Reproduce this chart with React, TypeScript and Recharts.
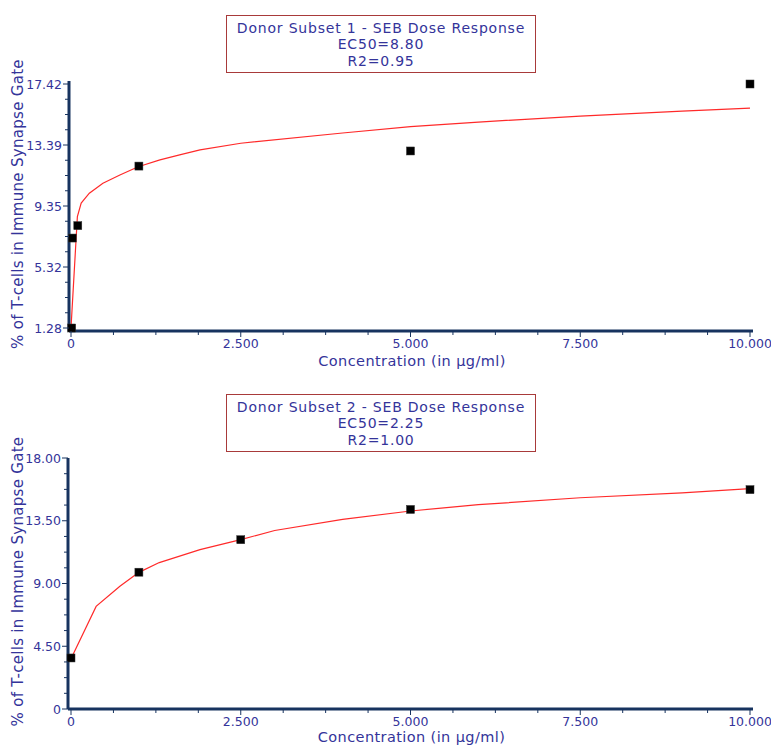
import React from 'react';
import { ComposedChart, Line, Scatter, XAxis, YAxis } from 'recharts';

// ---- shared axis ticks ----
const xMajorTicks = [0, 2.5, 5, 7.5, 10];
const xMajorLabels = ['0', '2.500', '5.000', '7.500', '10.000'];

// ---- Donor Subset 1 ----
const donor1Title = ['Donor Subset 1 - SEB Dose Response', 'EC50=8.80', 'R2=0.95'];
const donor1Conc = [0.01, 0.02, 0.1, 1, 5, 10];
const donor1Pct = [1.28, 7.23, 8.05, 11.99, 12.99, 17.42];
const donor1CurveX = [0, 0.094, 0.15, 0.27, 0.47, 0.72, 0.99, 1.31, 1.6, 1.9, 2.5, 4, 5, 6, 7.5, 9, 10];
const donor1CurveY = [1.28, 8.65, 9.54, 10.2, 10.86, 11.4, 11.95, 12.4, 12.73, 13.06, 13.5, 14.18, 14.6, 14.9, 15.3, 15.63, 15.83];
const donor1YTicks = [1.28, 5.315, 9.35, 13.385, 17.42];
const donor1YLabels = ['1.28', '5.32', '9.35', '13.39', '17.42'];

// ---- Donor Subset 2 ----
const donor2Title = ['Donor Subset 2 - SEB Dose Response', 'EC50=2.25', 'R2=1.00'];
const donor2Conc = [0, 1, 2.5, 5, 10];
const donor2Pct = [3.66, 9.81, 12.14, 14.31, 15.73];
const donor2CurveX = [0, 0.37, 0.72, 1, 1.3, 1.9, 2.5, 3, 4, 5, 6, 7.5, 9, 10];
const donor2CurveY = [3.6, 7.36, 8.8, 9.8, 10.5, 11.43, 12.15, 12.8, 13.6, 14.2, 14.65, 15.15, 15.5, 15.8];
const donor2YTicks = [0, 4.5, 9, 13.5, 18];
const donor2YLabels = ['0', '4.50', '9.00', '13.50', '18.00'];

const xAxisTitle = 'Concentration (in µg/ml)';
const yAxisTitle = '% of T-cells in Immune Synapse Gate';

const AXIS = '#17335f';
const TXT = '#34349a';
const FONT = '"DejaVu Sans", Verdana, sans-serif';

function subdivide(majors: number[], parts: number): number[] {
  const out: number[] = [];
  for (let i = 0; i < majors.length - 1; i++) {
    for (let k = 0; k < parts; k++) out.push(majors[i] + ((majors[i + 1] - majors[i]) * k) / parts);
  }
  out.push(majors[majors.length - 1]);
  return out;
}

function labelFor(v: number, majors: number[], labels: string[]): string | null {
  for (let i = 0; i < majors.length; i++) if (Math.abs(majors[i] - v) < 1e-6) return labels[i];
  return null;
}

const makeXTick = (majors: number[], labels: string[]) => (props: any) => {
  const { x, y, payload } = props;
  const lab = labelFor(payload.value, majors, labels);
  return (
    <g>
      <line x1={x} x2={x} y1={y} y2={y + (lab !== null ? 6 : 4)} stroke={AXIS} strokeWidth={1} />
      {lab !== null && (
        <text x={x} y={y + 16.5} textAnchor="middle" fill={TXT} fontSize={12.5} fontFamily={FONT}>
          {lab}
        </text>
      )}
    </g>
  );
};

const makeYTick = (majors: number[], labels: string[]) => (props: any) => {
  const { x, y, payload } = props;
  const lab = labelFor(payload.value, majors, labels);
  return (
    <g>
      <line x1={x} x2={x - (lab !== null ? 6 : 4)} y1={y} y2={y} stroke={AXIS} strokeWidth={1} />
      {lab !== null && (
        <text x={x - 7} y={y + 4.5} textAnchor="end" fill={TXT} fontSize={12.5} fontFamily={FONT}>
          {lab}
        </text>
      )}
    </g>
  );
};

const Square = (props: any) => {
  const { cx, cy } = props;
  if (cx == null || cy == null) return null;
  return <rect x={cx - 4} y={cy - 4} width={8} height={8} fill="#000" stroke="#333" strokeWidth={0.5} />;
};

type Cfg = {
  top: number;
  height: number;
  marginTop: number;
  marginBottom: number;
  xAxisHeight: number;
  yAxisWidth: number;
  marginRight: number;
  xPad: { left: number; right: number };
  yPad: { top: number; bottom: number };
  titleTop: number;
  xLabelOffset: number;
};

function DoseChart({
  cfg,
  title,
  conc,
  pct,
  curveX,
  curveY,
  yTicks,
  yLabels,
}: {
  cfg: Cfg;
  title: string[];
  conc: number[];
  pct: number[];
  curveX: number[];
  curveY: number[];
  yTicks: number[];
  yLabels: string[];
}) {
  const width = 771;
  const points = conc.map((x, i) => ({ x, y: pct[i] }));
  const curve = curveX.map((x, i) => ({ x, y: curveY[i] }));
  const plotTop = cfg.marginTop;
  const plotBottom = cfg.height - cfg.marginBottom - cfg.xAxisHeight;
  const plotLeft = cfg.yAxisWidth;
  const plotRight = width - cfg.marginRight;
  const cy = (plotTop + plotBottom) / 2 - 2;
  const cx = (plotLeft + plotRight) / 2 + 1;

  return (
    <div style={{ position: 'absolute', left: 0, top: cfg.top, width, height: cfg.height }}>
      <ComposedChart
        width={width}
        height={cfg.height}
        margin={{ top: cfg.marginTop, right: cfg.marginRight, bottom: cfg.marginBottom, left: 0 }}
      >
        <XAxis
          dataKey="x"
          type="number"
          domain={[0, 10]}
          ticks={subdivide(xMajorTicks, 4)}
          interval={0}
          tickSize={0}
          tickMargin={0}
          tickLine={false}
          tick={makeXTick(xMajorTicks, xMajorLabels)}
          axisLine={{ stroke: AXIS, strokeWidth: 3 }}
          height={cfg.xAxisHeight}
          padding={cfg.xPad}
          label={{
            content: () => (
              <text
                x={cx}
                y={plotBottom + cfg.xLabelOffset}
                textAnchor="middle"
                fill={TXT}
                fontSize={14.5}
                letterSpacing={0.4}
                fontFamily={FONT}
              >
                {xAxisTitle}
              </text>
            ),
          }}
        />
        <YAxis
          type="number"
          domain={[yTicks[0], yTicks[yTicks.length - 1]]}
          ticks={subdivide(yTicks, 4)}
          interval={0}
          tickSize={0}
          tickMargin={0}
          tickLine={false}
          tick={makeYTick(yTicks, yLabels)}
          axisLine={{ stroke: AXIS, strokeWidth: 3 }}
          width={cfg.yAxisWidth}
          padding={cfg.yPad}
          label={{
            content: () => (
              <text
                x={23}
                y={cy}
                transform={`rotate(-90, 23, ${cy})`}
                textAnchor="middle"
                fill={TXT}
                fontSize={15}
                letterSpacing={0.3}
                fontFamily={FONT}
              >
                {yAxisTitle}
              </text>
            ),
          }}
        />
        <Line
          data={curve}
          dataKey="y"
          type="linear"
          stroke="#ff2a2a"
          strokeWidth={1.2}
          dot={false}
          activeDot={false}
          isAnimationActive={false}
        />
        <Scatter data={points} dataKey="y" shape={<Square />} isAnimationActive={false} />
      </ComposedChart>
      <div
        style={{
          position: 'absolute',
          left: 226,
          top: cfg.titleTop,
          width: 310,
          height: 58,
          boxSizing: 'border-box',
          border: '1.5px solid #a83a3a',
          background: '#fff',
          color: TXT,
          fontFamily: FONT,
          fontSize: 14,
          letterSpacing: '0.8px',
          lineHeight: '16.3px',
          textAlign: 'center',
          paddingTop: 4,
        }}
      >
        {title.map((t, i) => (
          <div key={i}>{t}</div>
        ))}
      </div>
    </div>
  );
}

const cfg1: Cfg = {
  top: 0,
  height: 375,
  marginTop: 81,
  marginBottom: 4,
  xAxisHeight: 40,
  yAxisWidth: 69,
  marginRight: 18,
  xPad: { left: 2, right: 3 },
  yPad: { top: 3, bottom: 3 },
  titleTop: 15,
  xLabelOffset: 34.5,
};

const cfg2: Cfg = {
  top: 375,
  height: 370,
  marginTop: 83,
  marginBottom: 6,
  xAxisHeight: 30,
  yAxisWidth: 68,
  marginRight: 18,
  xPad: { left: 3, right: 3 },
  yPad: { top: 0, bottom: 0 },
  titleTop: 19,
  xLabelOffset: 32.5,
};

export default function App() {
  return (
    <div style={{ position: 'absolute', left: 0, top: 0, width: 771, height: 745, background: '#fff', overflow: 'hidden' }}>
      <DoseChart
        cfg={cfg1}
        title={donor1Title}
        conc={donor1Conc}
        pct={donor1Pct}
        curveX={donor1CurveX}
        curveY={donor1CurveY}
        yTicks={donor1YTicks}
        yLabels={donor1YLabels}
      />
      <DoseChart
        cfg={cfg2}
        title={donor2Title}
        conc={donor2Conc}
        pct={donor2Pct}
        curveX={donor2CurveX}
        curveY={donor2CurveY}
        yTicks={donor2YTicks}
        yLabels={donor2YLabels}
      />
    </div>
  );
}
